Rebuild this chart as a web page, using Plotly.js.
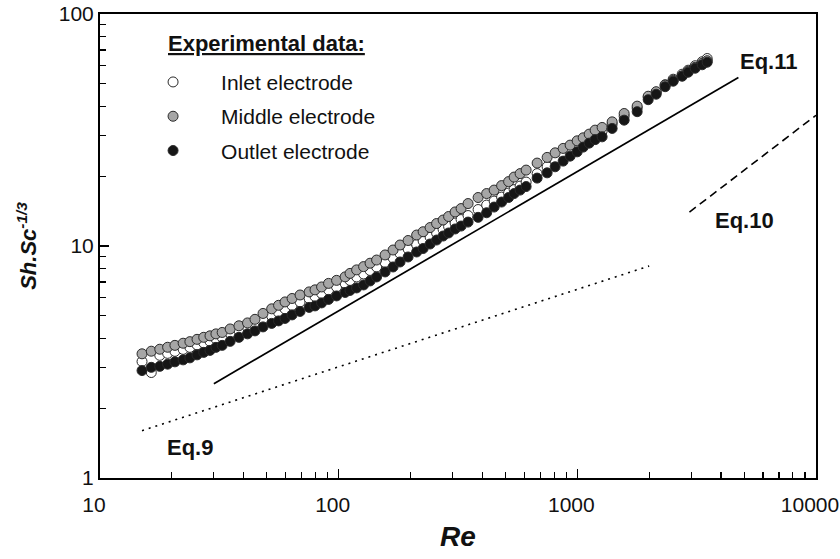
<!DOCTYPE html>
<html>
<head>
<meta charset="utf-8">
<script src="https://cdn.plot.ly/plotly-3.0.1.min.js"></script>
<style>html,body{margin:0;padding:0;background:#fff;}#chart{width:840px;height:559px;}</style>
</head>
<body>
<div id="chart"></div>
<script>
// Reynolds numbers (shared by the three electrodes)
const re = [15.0, 16.4, 17.8, 19.2, 20.6, 22.3, 23.8, 25.5, 27.2, 28.9,
  30.6, 32.5, 35.1, 38.2, 41.5, 44.6, 48.2, 52.4, 56.0, 59.6,
  63.8, 68.9, 75.2, 79.6, 84.8, 90.7, 98.0, 106.4, 111.6, 118.9,
  127.2, 135.4, 144.2, 156.5, 169.0, 180.8, 195.4, 212.2, 225.9, 241.6,
  257.2, 273.9, 288.8, 307.5, 325.8, 348.5, 383.9, 416.9, 448.1, 481.6,
  515.3, 543.3, 575.7, 610.1, 678.5, 747.2, 807.2, 872.0, 932.9, 998.2,
  1058, 1121, 1187, 1270, 1399, 1571, 1781, 1981, 2140, 2333,
  2521, 2749, 2913, 3116, 3335, 3500];

// Sh.Sc^-1/3 values
const inlet = [3.177, 2.849, 3.378, 3.446, 3.515, 3.585, 3.657, 3.749, 3.824, 3.881,
  3.978, 4.038, 4.201, 4.328, 4.459, 4.593, 4.802, 4.996, 5.172, 5.355,
  5.544, 5.740, 5.943, 6.062, 6.245, 6.466, 6.661, 6.897, 7.105, 7.356,
  7.578, 7.845, 8.122, 8.492, 8.880, 9.285, 9.707, 10.15, 10.51, 10.93,
  11.37, 11.78, 12.13, 12.56, 13.00, 13.53, 14.36, 15.01, 15.62, 16.25,
  16.91, 17.50, 18.12, 18.86, 20.51, 21.95, 23.46, 24.90, 25.77, 26.94,
  28.03, 29.16, 30.35, 31.26, 33.51, 36.27, 39.27, 43.79, 46.01, 49.57,
  52.35, 55.01, 57.24, 59.84, 62.27, 64.27];

const middle = [3.43, 3.52, 3.59, 3.66, 3.73, 3.81, 3.87, 3.96, 4.04, 4.10,
  4.18, 4.24, 4.39, 4.53, 4.66, 4.83, 5.12, 5.36, 5.55, 5.74,
  5.94, 6.15, 6.34, 6.47, 6.66, 6.90, 7.11, 7.36, 7.62, 7.89,
  8.15, 8.43, 8.70, 9.15, 9.61, 10.10, 10.56, 11.15, 11.52, 12.01,
  12.50, 12.94, 13.40, 14.02, 14.50, 15.24, 16.18, 16.83, 17.42, 18.21,
  18.95, 19.82, 20.51, 21.24, 22.77, 24.09, 25.21, 26.34, 27.22, 28.40,
  29.26, 30.35, 31.58, 32.43, 34.28, 37.25, 40.07, 44.22, 46.24, 49.33,
  51.83, 54.20, 56.66, 58.96, 61.35, 62.9];

const outlet = [2.905, 2.999, 3.029, 3.095, 3.167, 3.230, 3.295, 3.394, 3.479, 3.549,
  3.657, 3.730, 3.881, 4.038, 4.181, 4.306, 4.480, 4.639, 4.755, 4.874,
  5.047, 5.224, 5.437, 5.517, 5.684, 5.885, 6.093, 6.307, 6.434, 6.596,
  6.795, 7.069, 7.356, 7.730, 8.122, 8.534, 8.968, 9.424, 9.754, 10.20,
  10.61, 11.04, 11.38, 11.84, 12.19, 12.68, 13.29, 13.91, 14.72, 15.47,
  16.18, 16.83, 17.42, 18.04, 19.62, 20.67, 21.95, 23.22, 24.40, 25.46,
  26.68, 27.76, 28.74, 29.55, 32.12, 34.87, 37.93, 42.72, 45.11, 48.60,
  51.32, 53.93, 56.10, 58.38, 60.43, 61.96];

// Correlation lines (end points)
const eq9Re = [15, 2000];
const eq9Y = [1.6, 8.2];
const eq10Re = [2950, 10000];
const eq10Y = [14.0, 36.6];
const eq11Re = [30, 4730];
const eq11Y = [2.55, 53.2];

const seriesNames = ['Inlet electrode', 'Middle electrode', 'Outlet electrode'];
const eqLabels = ['Eq.9', 'Eq.10', 'Eq.11'];
const xTickVals = [10, 100, 1000, 10000];
const yTickVals = [1, 10, 100];
const minorDigits = [2, 3, 4, 5, 6, 7, 8, 9];

function minorVals(decades) {
  const out = [];
  decades.forEach(function (d) { minorDigits.forEach(function (m) { out.push(m * d); }); });
  return out;
}

const FONT = 'Liberation Sans, Arial, Helvetica, sans-serif';
const outline = {color: '#2a2a2a', width: 1};

const traces = [
  {x: eq9Re, y: eq9Y, mode: 'lines', line: {color: '#000', width: 1.6, dash: '2px,5px'}, showlegend: false, hoverinfo: 'skip'},
  {x: eq10Re, y: eq10Y, mode: 'lines', line: {color: '#000', width: 1.6, dash: '8px,5px'}, showlegend: false, hoverinfo: 'skip'},
  {x: eq11Re, y: eq11Y, mode: 'lines', line: {color: '#000', width: 1.7}, showlegend: false, hoverinfo: 'skip'},
  {x: re, y: inlet, name: seriesNames[0], legendgroup: 'a', mode: 'markers',
   marker: {symbol: 'circle', size: 10, color: '#ffffff', line: outline}},
  {x: re, y: middle, name: seriesNames[1], legendgroup: 'b', mode: 'markers',
   marker: {symbol: 'circle', size: 10, color: '#a6a6a6', line: outline}},
  {x: re, y: outlet, name: seriesNames[2], legendgroup: 'c', mode: 'markers',
   marker: {symbol: 'circle', size: 10, color: '#161616', line: outline}}
];

const layout = {
  width: 840, height: 559,
  margin: {l: 100, r: 24, t: 14, b: 81, pad: 0},
  paper_bgcolor: '#fff', plot_bgcolor: '#fff',
  font: {family: FONT, color: '#111', size: 21},
  showlegend: true,
  legend: {
    x: 0.035, y: 0.897, xanchor: 'left', yanchor: 'top',
    bgcolor: 'rgba(0,0,0,0)', borderwidth: 0,
    font: {family: FONT, size: 21, color: '#111'},
    itemwidth: 86, tracegroupgap: 4, itemsizing: 'trace'
  },
  xaxis: {
    type: 'log', range: [1, 4],
    tickmode: 'array', tickvals: xTickVals, ticktext: xTickVals.map(String),
    ticks: 'inside', ticklen: 9, tickwidth: 1.3, tickcolor: '#000',
    ticklabelshift: -6, ticklabelstandoff: 7, ticklabeloverflow: 'allow',
    minor: {tickmode: 'array', tickvals: minorVals([10, 100, 1000]), ticks: 'inside', ticklen: 6, tickwidth: 1.2, tickcolor: '#000', showgrid: false},
    showline: true, linecolor: '#000', linewidth: 2, mirror: true,
    showgrid: false, zeroline: false,
    tickfont: {family: FONT, size: 21, color: '#111'},
    title: {text: '<b><i>Re</i></b>', font: {family: FONT, size: 28, color: '#111'}, standoff: 11}
  },
  yaxis: {
    type: 'log', range: [0, 2],
    tickmode: 'array', tickvals: yTickVals, ticktext: yTickVals.map(String),
    ticks: 'inside', ticklen: 9, tickwidth: 1.3, tickcolor: '#000',
    minor: {tickmode: 'array', tickvals: minorVals([1, 10]), ticks: 'inside', ticklen: 6, tickwidth: 1.2, tickcolor: '#000', showgrid: false},
    showline: true, linecolor: '#000', linewidth: 2, mirror: true,
    showgrid: false, zeroline: false,
    tickfont: {family: FONT, size: 21, color: '#111'},
    title: {text: '<b><i>Sh.Sc<sup>-1/3</sup></i></b>', font: {family: FONT, size: 22, color: '#111'}, standoff: 16}
  },
  annotations: [
    {xref: 'paper', yref: 'paper', x: 0.092, y: 0.9375, xanchor: 'left', yanchor: 'middle',
     text: 'Experimental data:', showarrow: false,
     font: {family: FONT, size: 22, color: '#111', weight: 'bold', lineposition: 'under'}},
    {xref: 'paper', yref: 'paper', x: 0.1257, y: 0.0668, xanchor: 'center', yanchor: 'middle',
     text: '<b>' + eqLabels[0] + '</b>', showarrow: false, font: {family: FONT, size: 22, color: '#111'}},
    {xref: 'paper', yref: 'paper', x: 0.9008, y: 0.5539, xanchor: 'center', yanchor: 'middle',
     text: '<b>' + eqLabels[1] + '</b>', showarrow: false, font: {family: FONT, size: 22, color: '#111'}},
    {xref: 'paper', yref: 'paper', x: 0.933, y: 0.8966, xanchor: 'center', yanchor: 'middle',
     text: '<b>' + eqLabels[2] + '</b>', showarrow: false, font: {family: FONT, size: 22, color: '#111'}}
  ]
};

Plotly.newPlot('chart', traces, layout, {staticPlot: true, displayModeBar: false});
</script>
</body>
</html>
